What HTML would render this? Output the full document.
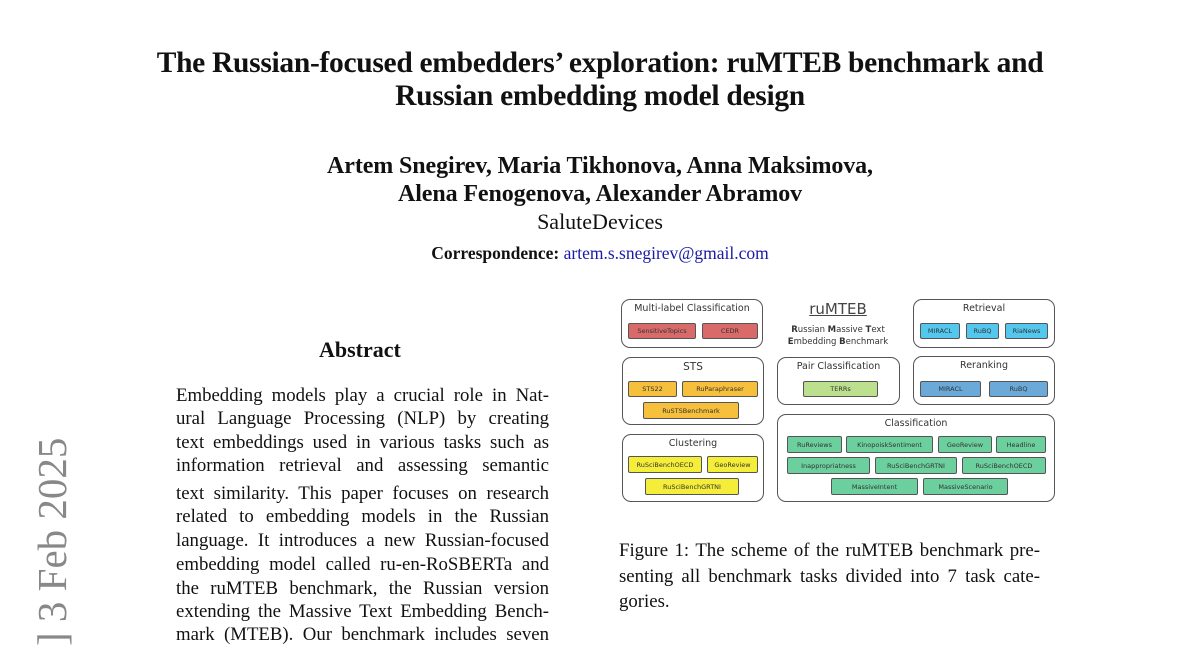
<!DOCTYPE html>
<html><head><meta charset="utf-8"><style>
html,body{margin:0;width:1200px;height:648px;overflow:hidden}
body{background:#fff;position:relative;font-family:"Liberation Serif",serif;color:#111}
.a{position:absolute;white-space:nowrap}
.c{position:absolute;left:0;width:1200px;text-align:center;white-space:nowrap}
.j{position:absolute;text-align:justify;text-align-last:justify;white-space:nowrap;font-size:18.8px}
.box{position:absolute;border:1.3px solid #555;border-radius:9px;box-sizing:border-box;background:#fff}
.bt{position:absolute;left:0;right:0;text-align:center;font-family:"DejaVu Sans","Liberation Sans",sans-serif;font-size:9.5px;color:#333}
.t{position:absolute;box-sizing:border-box;border:1.2px solid #555;border-radius:2px;font-family:"DejaVu Sans",sans-serif;font-size:6.5px;color:#333;display:flex;align-items:center;justify-content:center}
.r{background:#d96a6a}.o{background:#f6bf3c}.y{background:#f4ee3a}.lg{background:#bde08e}.cy{background:#54c7ee}.b{background:#6ba9d9}.g{background:#6ccf9e}
</style></head><body>
<div class="c" style="top:47px;font-size:29.5px;font-weight:bold;letter-spacing:-0.3px">The Russian-focused embedders’ exploration: ruMTEB benchmark and</div>
<div class="c" style="top:80px;font-size:29.5px;font-weight:bold;letter-spacing:-0.3px">Russian embedding model design</div>
<div class="c" style="top:153px;font-size:24px;font-weight:bold;letter-spacing:-0.1px">Artem Snegirev, Maria Tikhonova, Anna Maksimova,</div>
<div class="c" style="top:181px;font-size:24px;font-weight:bold;letter-spacing:-0.1px">Alena Fenogenova, Alexander Abramov</div>
<div class="c" style="top:209px;font-size:22px">SaluteDevices</div>
<div class="c" style="top:243px;font-size:17.5px"><b>Correspondence:</b> <span style="color:#1a1aa6">artem.s.snegirev@gmail.com</span></div>

<div class="a" style="left:29px;top:646px;transform-origin:0 0;transform:rotate(-90deg);font-size:41px;line-height:46px;color:#888;">] 3 Feb 2025</div>

<div class="a" style="left:319px;top:337px;font-size:22px;font-weight:bold">Abstract</div>
<div class="j" style="left:176px;top:385px;width:373px">Embedding models play a crucial role in Nat-</div>
<div class="j" style="left:176px;top:408px;width:373px">ural Language Processing (NLP) by creating</div>
<div class="j" style="left:176px;top:432px;width:373px">text embeddings used in various tasks such as</div>
<div class="j" style="left:176px;top:455px;width:373px">information retrieval and assessing semantic</div>
<div class="j" style="left:176px;top:483px;width:373px">text similarity. This paper focuses on research</div>
<div class="j" style="left:176px;top:506px;width:373px">related to embedding models in the Russian</div>
<div class="j" style="left:176px;top:530px;width:373px">language. It introduces a new Russian-focused</div>
<div class="j" style="left:176px;top:554px;width:373px">embedding model called ru-en-RoSBERTa and</div>
<div class="j" style="left:176px;top:578px;width:373px">the ruMTEB benchmark, the Russian version</div>
<div class="j" style="left:176px;top:601px;width:373px">extending the Massive Text Embedding Bench-</div>
<div class="j" style="left:176px;top:624px;width:373px;line-height:22px">mark (MTEB). Our benchmark includes seven</div>

<div class="j" style="left:619px;top:540px;width:421px">Figure 1: The scheme of the ruMTEB benchmark pre-</div>
<div class="j" style="left:619px;top:566px;width:421px">senting all benchmark tasks divided into 7 task cate-</div>
<div class="a" style="left:619px;top:591px;font-size:18.8px">gories.</div>

<div class="box" style="left:621px;top:299px;width:142px;height:49px"><div class="bt" style="top:3px">Multi-label Classification</div></div>
<div class="t r" style="left:628px;top:323px;width:68px;height:16px">SensitiveTopics</div>
<div class="t r" style="left:702px;top:323px;width:56px;height:16px">CEDR</div>

<div class="a" style="left:800px;top:300px;width:76px;text-align:center;font-family:'DejaVu Sans',sans-serif;font-size:15px;color:#444;text-decoration:underline">ruMTEB</div>
<div class="a" style="left:770px;top:324px;width:136px;text-align:center;font-family:'DejaVu Sans',sans-serif;font-size:8.5px;color:#333;line-height:12px"><b>R</b>ussian <b>M</b>assive <b>T</b>ext<br><b>E</b>mbedding <b>B</b>enchmark</div>

<div class="box" style="left:913px;top:299px;width:142px;height:49px"><div class="bt" style="top:3px">Retrieval</div></div>
<div class="t cy" style="left:920px;top:323px;width:40px;height:16px">MIRACL</div>
<div class="t cy" style="left:966px;top:323px;width:33px;height:16px">RuBQ</div>
<div class="t cy" style="left:1005px;top:323px;width:43px;height:16px">RiaNews</div>

<div class="box" style="left:622px;top:357px;width:142px;height:68px"><div class="bt" style="top:3px;font-size:10.5px">STS</div></div>
<div class="t o" style="left:628px;top:381px;width:49px;height:16px">STS22</div>
<div class="t o" style="left:682px;top:381px;width:76px;height:16px">RuParaphraser</div>
<div class="t o" style="left:643px;top:402px;width:96px;height:17px">RuSTSBenchmark</div>

<div class="box" style="left:777px;top:357px;width:123px;height:48px"><div class="bt" style="top:3px">Pair Classification</div></div>
<div class="t lg" style="left:803px;top:381px;width:75px;height:16px">TERRs</div>

<div class="box" style="left:913px;top:356px;width:142px;height:49px"><div class="bt" style="top:3px">Reranking</div></div>
<div class="t b" style="left:920px;top:381px;width:61px;height:16px">MIRACL</div>
<div class="t b" style="left:989px;top:381px;width:59px;height:16px">RuBQ</div>

<div class="box" style="left:622px;top:434px;width:142px;height:68px"><div class="bt" style="top:3px">Clustering</div></div>
<div class="t y" style="left:628px;top:456px;width:74px;height:17px">RuSciBenchOECD</div>
<div class="t y" style="left:707px;top:456px;width:51px;height:17px">GeoReview</div>
<div class="t y" style="left:645px;top:478px;width:94px;height:17px">RuSciBenchGRTNI</div>

<div class="box" style="left:777px;top:414px;width:278px;height:88px"><div class="bt" style="top:3px">Classification</div></div>
<div class="t g" style="left:787px;top:436px;width:55px;height:17px">RuReviews</div>
<div class="t g" style="left:846px;top:436px;width:87px;height:17px">KinopoiskSentiment</div>
<div class="t g" style="left:938px;top:436px;width:54px;height:17px">GeoReview</div>
<div class="t g" style="left:996px;top:436px;width:50px;height:17px">Headline</div>
<div class="t g" style="left:787px;top:457px;width:83px;height:17px">Inappropriatness</div>
<div class="t g" style="left:875px;top:457px;width:82px;height:17px">RuSciBenchGRTNI</div>
<div class="t g" style="left:962px;top:457px;width:84px;height:17px">RuSciBenchOECD</div>
<div class="t g" style="left:831px;top:478px;width:87px;height:17px">MassiveIntent</div>
<div class="t g" style="left:923px;top:478px;width:85px;height:17px">MassiveScenario</div>
</body></html>
